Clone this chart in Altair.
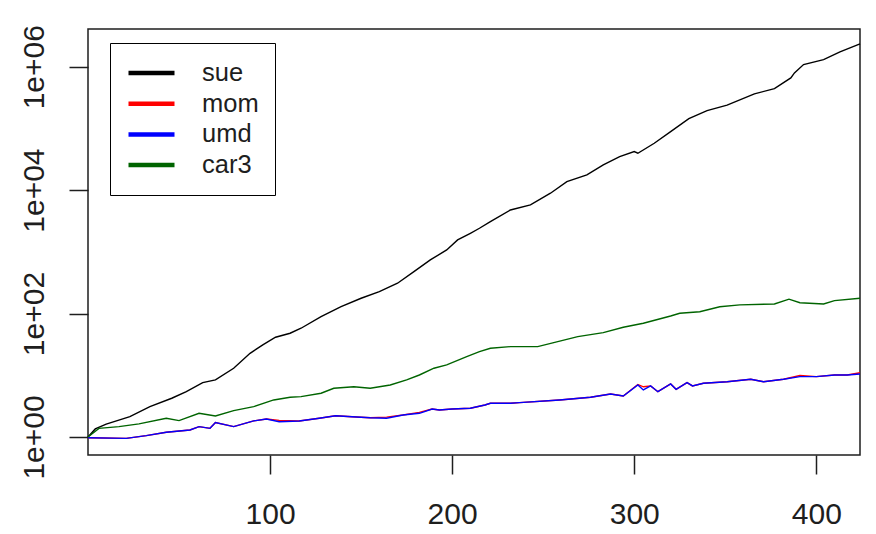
import altair as alt
import pandas as pd

series_names = ["sue", "mom", "umd", "car3"]
series_colors = ["#000000", "#ff0000", "#0000ff", "#006400"]

sue_x = [0, 4, 10, 23, 34, 46, 54, 63, 70, 80, 89, 96, 103, 111, 117, 128, 139, 150, 160, 170,
         179, 188, 197, 203, 210, 215, 221, 232, 243, 254, 263, 274, 283, 292, 300, 302, 311, 320,
         330, 340, 351, 366, 377, 386, 388, 393, 404, 413, 424]
sue_y = [1.0, 1.35, 1.62, 2.13, 3.1, 4.24, 5.42, 7.6, 8.4, 13.0, 22.7, 31, 41.3, 48, 57.8, 89, 129,
         177, 227, 310, 478, 739, 1074, 1560, 2000, 2410, 3080, 4770, 5750, 8910, 13700, 17600,
         25600, 34900, 42100, 39600, 57500, 88700, 144000, 194000, 238000, 362000, 442000, 658000,
         794000, 1081000, 1303000, 1738000, 2344000]

umd_x = [0, 21, 32, 43, 56, 61, 67, 70, 80, 91, 98, 105, 116, 127, 136, 145, 155, 164, 173, 182,
         189, 193, 200, 210, 218, 221, 232, 237, 259, 276, 287, 294, 302, 305, 309, 313, 320, 323,
         329, 332, 338, 351, 364, 371, 382, 391, 400, 410, 417, 424]
umd_y = [0.97, 0.95, 1.05, 1.19, 1.30, 1.47, 1.38, 1.71, 1.47, 1.82, 1.96, 1.77, 1.82, 2.01, 2.21,
         2.13, 2.05, 2.01, 2.27, 2.42, 2.84, 2.74, 2.84, 2.92, 3.3, 3.52, 3.52, 3.6, 3.98, 4.4, 4.98,
         4.62, 6.96, 5.78, 6.71, 5.42, 7.23, 5.93, 7.59, 6.71, 7.42, 7.87, 8.61, 7.87, 8.61, 9.49,
         9.49, 10.1, 10.1, 10.5]

mom_x = umd_x
mom_y = [0.97, 0.95, 1.05, 1.19, 1.30, 1.47, 1.38, 1.71, 1.47, 1.82, 1.96, 1.86, 1.82, 2.01, 2.21,
         2.13, 2.05, 2.10, 2.27, 2.50, 2.84, 2.74, 2.84, 2.92, 3.3, 3.52, 3.52, 3.6, 3.98, 4.4, 4.98,
         4.62, 7.10, 6.50, 6.71, 5.42, 7.23, 5.93, 7.59, 6.71, 7.42, 7.87, 8.61, 7.87, 8.61, 9.90,
         9.49, 10.1, 10.1, 11.0]

car3_x = [0, 6, 17, 28, 43, 50, 61, 70, 80, 91, 102, 111, 117, 128, 135, 146, 155, 166, 175, 182,
          190, 197, 208, 215, 221, 232, 247, 258, 269, 283, 294, 305, 320, 325, 336, 347, 358, 377,
          385, 391, 404, 410, 424]
car3_y = [1.0, 1.38, 1.47, 1.63, 2.01, 1.84, 2.42, 2.19, 2.67, 3.10, 3.98, 4.4, 4.5, 5.11, 6.15,
          6.53, 6.15, 6.96, 8.4, 10.1, 13.0, 14.7, 20, 24.1, 27.4, 29.1, 29.1, 35.1, 42.3, 49, 60,
          69.7, 91.4, 101, 107, 129, 138, 143, 171, 150, 143, 162, 177]

x_ticks = [100, 200, 300, 400]
y_ticks = [1, 100, 10000, 1000000]
y_tick_labels = ["1e+00", "1e+02", "1e+04", "1e+06"]

rows = []
for name, xs, ys in [("sue", sue_x, sue_y), ("mom", mom_x, mom_y),
                     ("umd", umd_x, umd_y), ("car3", car3_x, car3_y)]:
    for xv, yv in zip(xs, ys):
        rows.append({"t": xv, "value": yv, "series": name})
df = pd.DataFrame(rows)

label_expr = " : ".join(f"datum.value == {v} ? '{l}'" for v, l in zip(y_ticks, y_tick_labels)) + " : ''"

FONT = "Liberation Sans"
INK = "#1e1e1e"

x_enc = alt.X(
    "t:Q",
    scale=alt.Scale(domain=[0, 424], nice=False, zero=False),
    axis=alt.Axis(values=x_ticks, title=None, grid=False, domain=False, tickSize=19,
                  tickWidth=1.5, tickColor=INK, labelFontSize=30, labelFont=FONT,
                  labelColor=INK, labelPadding=25.5, labelBaseline="top", labelAngle=0,
                  labelFlush=False, labelOverlap=False),
)
y_enc = alt.Y(
    "value:Q",
    scale=alt.Scale(type="log", domain=[0.5105, 4.08e6], nice=False),
    axis=alt.Axis(values=y_ticks, labelExpr=label_expr, title=None, grid=False, domain=False,
                  tickSize=19, tickWidth=1.5, tickColor=INK, labelFontSize=30, labelFont=FONT,
                  labelColor=INK, labelPadding=25.5, labelAngle=270, labelAlign="center",
                  labelBaseline="alphabetic", labelFlush=False, labelOverlap=False),
)
color_enc = alt.Color(
    "series:N",
    scale=alt.Scale(domain=series_names, range=series_colors),
    legend=alt.Legend(
        title=None, orient="none", legendX=22, legendY=14, direction="vertical",
        strokeColor="#000000", fillColor="#ffffff", padding=16, cornerRadius=0,
        symbolType="M-1,0H3", symbolSize=529, symbolStrokeWidth=4.5,
        labelFont=FONT, labelFontSize=25.5, labelColor=INK, labelOffset=48,
        rowPadding=2.7, labelLimit=200,
    ),
)

base = alt.Chart(df).mark_line(strokeWidth=1.4).encode(x=x_enc, y=y_enc, color=color_enc)
layers = [base.transform_filter(alt.datum.series == n) for n in series_names]

chart = alt.layer(*layers).properties(
    width=772, height=426, autosize="none",
    padding={"left": 88, "top": 29, "right": 16, "bottom": 79},
    background="white",
).configure_view(stroke=INK, strokeWidth=1.5)

chart.save("out.html", embed_options={"renderer": "svg", "actions": False})
